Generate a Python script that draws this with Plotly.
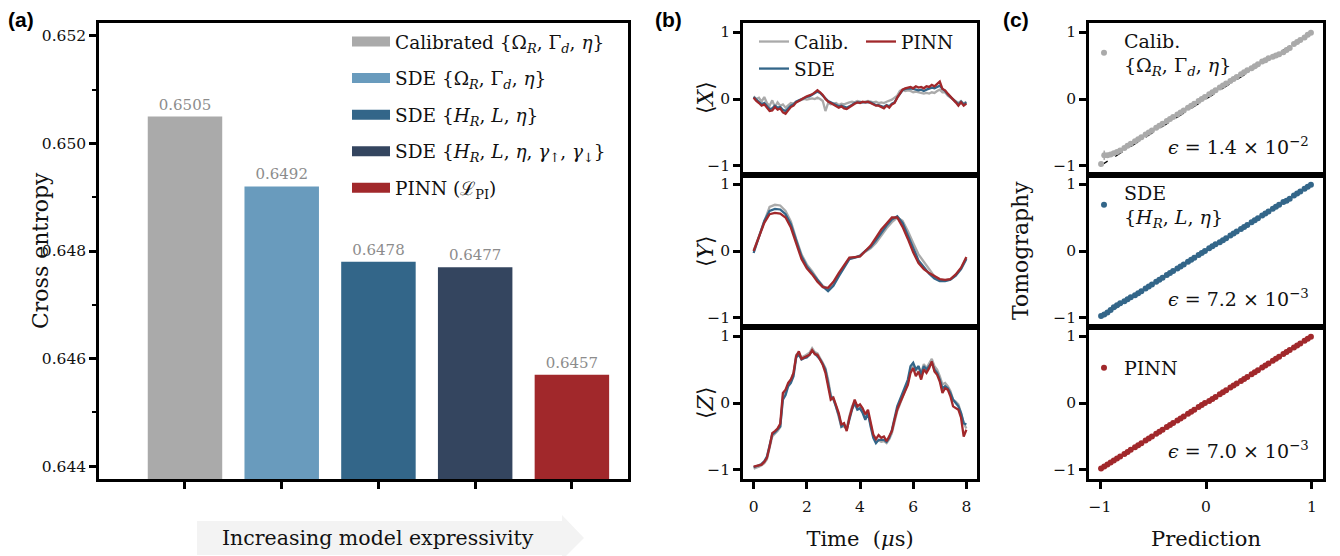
import plotly.graph_objects as go

W, H = 1340, 556
SERIF = "DejaVu Serif"

# ---------------- Panel (a) data ----------------
model_names = [
    "Calibrated {Ω<sub><i>R</i></sub>, Γ<sub><i>d</i></sub>, <i>η</i>}",
    "SDE {Ω<sub><i>R</i></sub>, Γ<sub><i>d</i></sub>, <i>η</i>}",
    "SDE {<i>H</i><sub><i>R</i></sub>, <i>L</i>, <i>η</i>}",
    "SDE {<i>H</i><sub><i>R</i></sub>, <i>L</i>, <i>η</i>, <i>γ</i><sub>↑</sub>, <i>γ</i><sub>↓</sub>}",
    "PINN (ℒ<sub>PI</sub>)",
]
cross_entropy = [0.6505, 0.6492, 0.6478, 0.6477, 0.6457]
bar_colors = ["#aaaaaa", "#699bbd", "#336689", "#34455f", "#a1282b"]

# ---------------- Panel (b) data ----------------
x_calib = [0.04, 0.0, 0.02, -0.04, 0.03, -0.06, -0.1, -0.02, -0.12, -0.05, -0.1, -0.08, -0.13, -0.1, -0.06, -0.07,
           -0.04, -0.03, -0.02, 0.0, -0.01, 0.0, 0.01, 0.0, 0.02, 0.0, -0.03, -0.18, -0.06, -0.08, -0.07, -0.06,
           -0.09, -0.07, -0.08, -0.06, -0.05, -0.04, -0.05, -0.03, -0.04, -0.05, -0.04, -0.03, -0.04, -0.05, -0.04,
           -0.06, -0.05, -0.06, -0.04, -0.03, -0.01, 0.02, 0.05, 0.12, 0.14, 0.12, 0.13, 0.12, 0.1, 0.11, 0.1, 0.09,
           0.08, 0.09, 0.08, 0.1, 0.09, 0.12, 0.14, 0.1, 0.1, 0.05, 0.02, 0.0, -0.03, -0.06, -0.03, -0.07, -0.04]
x_sde = [0.03, -0.01, -0.04, -0.08, -0.06, -0.11, -0.15, -0.14, -0.1, -0.13, -0.12, -0.16, -0.18, -0.14, -0.1, -0.08,
         -0.04, -0.02, 0.0, 0.02, 0.03, 0.04, 0.06, 0.08, 0.11, 0.09, 0.05, 0.0, -0.03, -0.05, -0.07, -0.09, -0.11,
         -0.1, -0.12, -0.13, -0.11, -0.08, -0.06, -0.05, -0.05, -0.04, -0.05, -0.04, -0.05, -0.07, -0.09, -0.09,
         -0.11, -0.12, -0.09, -0.11, -0.07, -0.05, 0.02, 0.07, 0.13, 0.15, 0.16, 0.16, 0.15, 0.14, 0.13, 0.14, 0.12,
         0.14, 0.15, 0.17, 0.16, 0.18, 0.2, 0.15, 0.12, 0.07, 0.03, 0.0, -0.04, -0.08, -0.04, -0.08, -0.05]
x_pinn = [0.02, -0.03, -0.06, -0.1, -0.08, -0.14, -0.18, -0.17, -0.12, -0.16, -0.14, -0.2, -0.22, -0.17, -0.12, -0.1,
          -0.05, -0.03, 0.0, 0.02, 0.04, 0.05, 0.07, 0.1, 0.13, 0.1, 0.06, 0.0, -0.04, -0.06, -0.08, -0.1, -0.13,
          -0.11, -0.14, -0.15, -0.12, -0.09, -0.07, -0.05, -0.06, -0.04, -0.05, -0.04, -0.06, -0.07, -0.1, -0.1,
          -0.12, -0.14, -0.1, -0.13, -0.08, -0.06, 0.02, 0.08, 0.14, 0.16, 0.17, 0.18, 0.16, 0.19, 0.17, 0.18, 0.16,
          0.19, 0.18, 0.21, 0.19, 0.22, 0.26, 0.15, 0.13, 0.08, 0.04, 0.0, -0.05, -0.1, -0.05, -0.1, -0.07]

y_calib = [0.0, 0.22, 0.47, 0.66, 0.69, 0.68, 0.6, 0.44, 0.18, -0.05, -0.2, -0.3, -0.42, -0.52, -0.57, -0.5, -0.36,
           -0.23, -0.11, -0.1, -0.08, -0.01, 0.04, 0.12, 0.23, 0.34, 0.43, 0.5, 0.45, 0.3, 0.12, -0.05, -0.16, -0.28,
           -0.38, -0.43, -0.44, -0.42, -0.36, -0.26, -0.1]
y_sde = [-0.03, 0.2, 0.45, 0.6, 0.63, 0.62, 0.55, 0.4, 0.15, -0.08, -0.23, -0.33, -0.44, -0.53, -0.6, -0.52, -0.38,
         -0.25, -0.12, -0.1, -0.07, 0.0, 0.06, 0.16, 0.28, 0.38, 0.47, 0.52, 0.42, 0.23, 0.03, -0.14, -0.24, -0.34,
         -0.41, -0.45, -0.45, -0.43, -0.37, -0.27, -0.12]
y_pinn = [0.0, 0.2, 0.42, 0.55, 0.57, 0.56, 0.5, 0.35, 0.1, -0.12, -0.26, -0.35, -0.46, -0.54, -0.55, -0.46, -0.33,
          -0.22, -0.1, -0.09, -0.08, 0.0, 0.08, 0.2, 0.32, 0.41, 0.5, 0.5, 0.36, 0.18, -0.02, -0.18, -0.27, -0.33,
          -0.37, -0.42, -0.43, -0.42, -0.35, -0.25, -0.09]

z_calib = [-0.98, -0.97, -0.95, -0.93, -0.9, -0.84, -0.68, -0.5, -0.46, -0.42, -0.36, 0.1, 0.18, 0.28, 0.35, 0.45,
           0.72, 0.75, 0.68, 0.7, 0.72, 0.75, 0.82, 0.76, 0.74, 0.68, 0.6, 0.52, 0.35, 0.12, 0.05, -0.05, -0.2, -0.36,
           -0.35, -0.38, -0.2, -0.05, 0.02, -0.08, -0.06, -0.12, -0.22, -0.15, -0.32, -0.5, -0.58, -0.56, -0.58,
           -0.57, -0.6, -0.54, -0.45, -0.3, -0.12, -0.02, 0.08, 0.2, 0.3, 0.48, 0.55, 0.48, 0.55, 0.45, 0.58, 0.52,
           0.58, 0.66, 0.55, 0.5, 0.4, 0.28, 0.3, 0.25, 0.18, 0.05, 0.02, -0.02, -0.15, -0.3, -0.38]
z_sde = [-0.96, -0.95, -0.93, -0.91, -0.87, -0.8, -0.62, -0.47, -0.44, -0.4, -0.35, 0.05, 0.12, 0.25, 0.3, 0.4, 0.68,
         0.72, 0.65, 0.67, 0.68, 0.72, 0.78, 0.74, 0.7, 0.65, 0.58, 0.5, 0.3, 0.1, 0.06, -0.05, -0.18, -0.35, -0.32,
         -0.4, -0.25, -0.1, 0.0, -0.1, -0.08, -0.15, -0.25, -0.15, -0.35, -0.52, -0.6, -0.55, -0.55, -0.55, -0.58,
         -0.52, -0.4, -0.22, -0.05, 0.05, 0.15, 0.25, 0.35, 0.55, 0.6, 0.5, 0.55, 0.42, 0.55, 0.5, 0.55, 0.6, 0.5,
         0.45, 0.35, 0.22, 0.25, 0.22, 0.15, 0.05, 0.0, -0.05, -0.15, -0.3, -0.32]
z_pinn = [-0.95, -0.94, -0.93, -0.92, -0.88, -0.82, -0.65, -0.45, -0.42, -0.38, -0.31, 0.15, 0.2, 0.3, 0.35, 0.45,
          0.7, 0.77, 0.66, 0.68, 0.69, 0.72, 0.79, 0.73, 0.72, 0.64, 0.57, 0.45, 0.25, 0.05, 0.08, -0.02, -0.15,
          -0.32, -0.3, -0.42, -0.22, -0.08, 0.05, -0.05, -0.02, -0.08, -0.17, -0.1, -0.3, -0.47, -0.54, -0.48, -0.52,
          -0.5, -0.57, -0.5, -0.42, -0.25, -0.1, 0.0, 0.1, 0.18, 0.27, 0.45, 0.52, 0.4, 0.47, 0.35, 0.5, 0.45, 0.52,
          0.62, 0.47, 0.42, 0.32, 0.15, 0.22, 0.2, 0.1, -0.05, -0.08, -0.1, -0.22, -0.5, -0.4]

dt_fine = 0.1
dt_coarse = 0.2

# ---------------- Panel (c) data ----------------
pred_points = [-0.99, -0.96, -0.93, -0.9, -0.87, -0.84, -0.81, -0.77, -0.74, -0.71, -0.67, -0.64, -0.61, -0.57,
               -0.54, -0.51, -0.47, -0.44, -0.41, -0.37, -0.34, -0.31, -0.27, -0.24, -0.21, -0.17, -0.14, -0.11,
               -0.07, -0.04, -0.01, 0.03, 0.06, 0.09, 0.13, 0.16, 0.19, 0.23, 0.26, 0.29, 0.33, 0.36, 0.39, 0.43,
               0.46, 0.49, 0.53, 0.56, 0.59, 0.63, 0.66, 0.69, 0.73, 0.76, 0.79, 0.83, 0.86, 0.89, 0.93, 0.96, 0.99]
tomo_calib = [-0.97, -0.84, -0.84, -0.83, -0.81, -0.79, -0.77, -0.73, -0.7, -0.67, -0.63, -0.6, -0.57, -0.53, -0.5,
              -0.47, -0.43, -0.4, -0.37, -0.33, -0.3, -0.27, -0.23, -0.2, -0.17, -0.13, -0.1, -0.07, -0.03, 0.0,
              0.03, 0.07, 0.1, 0.13, 0.17, 0.2, 0.23, 0.27, 0.3, 0.33, 0.37, 0.4, 0.43, 0.46, 0.49, 0.52, 0.56,
              0.58, 0.61, 0.63, 0.65, 0.67, 0.7, 0.73, 0.76, 0.82, 0.85, 0.88, 0.92, 0.96, 0.99]
err_calib = [0.01, 0.07, 0.02, 0.02, 0.02, 0.02, 0.015, 0.015, 0.015, 0.015, 0.015, 0.015, 0.015, 0.015, 0.015,
             0.015, 0.015, 0.015, 0.015, 0.015, 0.015, 0.015, 0.015, 0.015, 0.015, 0.015, 0.015, 0.015, 0.015, 0.015,
             0.015, 0.015, 0.015, 0.015, 0.015, 0.015, 0.015, 0.015, 0.015, 0.015, 0.015, 0.015, 0.015, 0.015, 0.015,
             0.015, 0.015, 0.015, 0.015, 0.015, 0.015, 0.015, 0.015, 0.015, 0.015, 0.015, 0.015, 0.015, 0.01, 0.01,
             0.01]
tomo_sde = [-0.97, -0.95, -0.92, -0.88, -0.84, -0.81, -0.78, -0.75, -0.72, -0.69, -0.66, -0.63, -0.6, -0.56, -0.53,
            -0.5, -0.46, -0.43, -0.4, -0.36, -0.33, -0.3, -0.26, -0.23, -0.2, -0.16, -0.13, -0.1, -0.06, -0.03, 0.0,
            0.04, 0.07, 0.1, 0.13, 0.16, 0.19, 0.23, 0.26, 0.29, 0.33, 0.36, 0.39, 0.43, 0.46, 0.49, 0.53, 0.56,
            0.59, 0.63, 0.66, 0.69, 0.73, 0.75, 0.78, 0.83, 0.86, 0.89, 0.93, 0.96, 0.99]
err_sde = [0.01, 0.012, 0.012, 0.012, 0.012, 0.012, 0.012, 0.012, 0.012, 0.012, 0.012, 0.012, 0.012, 0.012, 0.012,
           0.012, 0.012, 0.012, 0.012, 0.012, 0.012, 0.012, 0.012, 0.012, 0.012, 0.012, 0.012, 0.012, 0.012, 0.012,
           0.012, 0.012, 0.012, 0.012, 0.012, 0.012, 0.012, 0.012, 0.012, 0.012, 0.012, 0.012, 0.012, 0.012, 0.012,
           0.012, 0.012, 0.012, 0.012, 0.012, 0.012, 0.012, 0.012, 0.012, 0.012, 0.012, 0.012, 0.012, 0.01, 0.01,
           0.01]
tomo_pinn = [-0.98, -0.95, -0.92, -0.89, -0.86, -0.83, -0.8, -0.76, -0.73, -0.7, -0.66, -0.63, -0.6, -0.56, -0.53,
             -0.5, -0.46, -0.43, -0.4, -0.36, -0.33, -0.3, -0.26, -0.23, -0.2, -0.16, -0.13, -0.1, -0.06, -0.03, 0.0,
             0.03, 0.06, 0.09, 0.13, 0.16, 0.19, 0.23, 0.26, 0.29, 0.33, 0.36, 0.39, 0.43, 0.46, 0.49, 0.53, 0.56,
             0.59, 0.63, 0.66, 0.69, 0.73, 0.76, 0.79, 0.83, 0.86, 0.89, 0.93, 0.96, 0.99]
err_pinn = [0.01, 0.012, 0.012, 0.012, 0.012, 0.012, 0.012, 0.012, 0.012, 0.012, 0.012, 0.012, 0.012, 0.012, 0.012,
            0.012, 0.012, 0.012, 0.012, 0.012, 0.012, 0.012, 0.012, 0.012, 0.012, 0.012, 0.012, 0.012, 0.012, 0.012,
            0.012, 0.012, 0.012, 0.012, 0.012, 0.012, 0.012, 0.012, 0.012, 0.012, 0.012, 0.012, 0.012, 0.012, 0.012,
            0.012, 0.012, 0.012, 0.012, 0.012, 0.012, 0.012, 0.012, 0.012, 0.012, 0.012, 0.012, 0.012, 0.01, 0.01,
            0.01]
diag_line = [-1, 1]
eps_labels = ["<i>ϵ</i> = 1.4 × 10<sup>−2</sup>", "<i>ϵ</i> = 7.2 × 10<sup>−3</sup>", "<i>ϵ</i> = 7.0 × 10<sup>−3</sup>"]
c_legend_names = ["Calib.<br>{Ω<sub><i>R</i></sub>, Γ<sub><i>d</i></sub>, <i>η</i>}",
                  "SDE<br>{<i>H</i><sub><i>R</i></sub>, <i>L</i>, <i>η</i>}",
                  "PINN"]

C_CAL, C_SDE, C_PINN = "#aaaaaa", "#336689", "#a1282b"


def px_x(p):
    return p / W


def px_y(p):
    return 1 - p / H


fig = go.Figure()

# ---- (a) bars (legend swatches drawn by wide line proxies, like the reference's rectangles)
for i, (name, val, col) in enumerate(zip(model_names, cross_entropy, bar_colors)):
    fig.add_trace(go.Bar(
        x=[i], y=[val], width=0.77, name=name, marker=dict(color=col, line=dict(width=0)),
        text=[f"{val:.4f}"], textposition="outside", cliponaxis=False,
        textfont=dict(family=SERIF, size=15, color="#8c8c8c"),
        showlegend=False, legendgroup=f"a{i}", xaxis="x", yaxis="y",
    ))
    fig.add_trace(go.Scatter(
        x=[None], y=[None], mode="lines", name=name, line=dict(color=col, width=14),
        legend="legend", legendgroup=f"a{i}", xaxis="x", yaxis="y", hoverinfo="skip",
    ))

# ---- (b) time traces
def tgrid(vals, dt):
    return [round(k * dt, 2) for k in range(len(vals))]

series_b = [
    (x_calib, x_sde, x_pinn, dt_fine, "2"),
    (y_calib, y_sde, y_pinn, dt_coarse, "3"),
    (z_calib, z_sde, z_pinn, dt_fine, "4"),
]
for r, (cal, sde, pinn, dt, ax) in enumerate(series_b):
    show = r == 0
    fig.add_trace(go.Scatter(x=tgrid(cal, dt), y=cal, mode="lines", line=dict(color=C_CAL, width=2.3),
                             name="Calib.", showlegend=show, legend="legend2", legendgroup="bc",
                             xaxis="x" + ax, yaxis="y" + ax))
    fig.add_trace(go.Scatter(x=tgrid(sde, dt), y=sde, mode="lines", line=dict(color=C_SDE, width=2.3),
                             name="SDE", showlegend=show, legend="legend2", legendgroup="bs",
                             xaxis="x" + ax, yaxis="y" + ax))
    fig.add_trace(go.Scatter(x=tgrid(pinn, dt), y=pinn, mode="lines", line=dict(color=C_PINN, width=2.3),
                             name="PINN", showlegend=show, legend="legend3", legendgroup="bp",
                             xaxis="x" + ax, yaxis="y" + ax))

# ---- (c) scatter vs tomography
series_c = [(tomo_calib, err_calib, C_CAL, "5", "legend4"),
            (tomo_sde, err_sde, C_SDE, "6", "legend5"),
            (tomo_pinn, err_pinn, C_PINN, "7", "legend6")]
for k, (tomo, err, col, ax, lg) in enumerate(series_c):
    fig.add_trace(go.Scatter(x=diag_line, y=diag_line, mode="lines", line=dict(color="black", width=1.3, dash="dash"),
                             showlegend=False, xaxis="x" + ax, yaxis="y" + ax, hoverinfo="skip"))
    fig.add_trace(go.Scatter(x=pred_points, y=tomo, mode="markers", name=c_legend_names[k],
                             marker=dict(color=col, size=6),
                             error_y=dict(type="data", array=err, color=col, thickness=1.6, width=0),
                             legend=lg, xaxis="x" + ax, yaxis="y" + ax))

# ---------------- Layout ----------------
tickfont = dict(family=SERIF, size=15.5, color="#111")
titlefont = dict(family=SERIF, size=21, color="#111")
axcommon = dict(showline=True, mirror=True, linewidth=2.5, linecolor="black", showgrid=False, zeroline=False,
                ticks="outside", ticklen=7, tickwidth=2.5, tickcolor="black", tickfont=tickfont)

xa, xb, xc = [px_x(99), px_x(628)], [px_x(743), px_x(977)], [px_x(1089), px_x(1323)]
rows = [[px_y(175), px_y(23)], [px_y(327), px_y(175)], [px_y(479), px_y(327)]]

layout = dict(
    width=W, height=H, margin=dict(l=0, r=0, t=0, b=0),
    paper_bgcolor="white", plot_bgcolor="white", barmode="overlay", showlegend=True,
    font=dict(family=SERIF, size=17, color="#111"),
)
layout["xaxis"] = dict(axcommon, domain=xa, range=[-0.889, 4.58], tickvals=[0, 1, 2, 3, 4],
                       showticklabels=False, anchor="y")
layout["yaxis"] = dict(axcommon, domain=[px_y(479), px_y(23)], range=[0.64376, 0.65224],
                       tickvals=[0.644, 0.646, 0.648, 0.650, 0.652], tickformat=".3f",
                       minor=dict(dtick=0.001, ticks="outside", ticklen=4, tickwidth=2, tickcolor="black"),
                       anchor="x")

for r in range(3):
    ax = str(r + 2)
    last = r == 2
    layout["xaxis" + ax] = dict(axcommon, domain=xb, range=[-0.4, 8.4], anchor="y" + ax,
                                tickvals=[0, 2, 4, 6, 8] if last else [], showticklabels=last,
                                ticks="outside" if last else "", ticklabelstandoff=5,
                                title=dict(text="Time \u00a0(<i>μ</i>s)", font=titlefont, standoff=16)
                                if last else None)
    layout["yaxis" + ax] = dict(axcommon, domain=rows[r], range=[-1.135, 1.135], tickvals=[-1, 0, 1],
                                anchor="x" + ax)

for r in range(3):
    ax = str(r + 5)
    last = r == 2
    layout["xaxis" + ax] = dict(axcommon, domain=xc, range=[-1.104, 1.104], anchor="y" + ax,
                                tickvals=[-1, 0, 1] if last else [], showticklabels=last,
                                ticks="outside" if last else "", ticklabelstandoff=5,
                                title=dict(text="Prediction", font=titlefont, standoff=16)
                                if last else None)
    layout["yaxis" + ax] = dict(axcommon, domain=rows[r], range=[-1.135, 1.135], tickvals=[-1, 0, 1],
                                anchor="x" + ax)

layout["legend"] = dict(x=px_x(347), y=px_y(23), xanchor="left", yanchor="top", bgcolor="rgba(0,0,0,0)",
                        font=dict(family=SERIF, size=18.5, color="#111"), tracegroupgap=9.5, itemwidth=38)
layout["legend2"] = dict(x=px_x(754), y=px_y(23), xanchor="left", yanchor="top", bgcolor="rgba(0,0,0,0)",
                         font=dict(family=SERIF, size=18.5, color="#111"), tracegroupgap=0, itemwidth=30)
layout["legend3"] = dict(x=px_x(861), y=px_y(23), xanchor="left", yanchor="top", bgcolor="rgba(0,0,0,0)",
                         font=dict(family=SERIF, size=18.5, color="#111"), itemwidth=30)
for k, lg in enumerate(["legend4", "legend5", "legend6"]):
    top = [23, 175, 327][k]
    off = [30, 30, 41][k]
    layout[lg] = dict(x=px_x(1084), y=px_y(top + off), xanchor="left", yanchor="middle", bgcolor="rgba(0,0,0,0)",
                      font=dict(family=SERIF, size=19, color="#111"), itemwidth=30)

annotations = []
for k, txt in enumerate(eps_labels):
    ax = str(k + 5)
    annotations.append(dict(text=txt, xref="x" + ax + " domain", yref="y" + ax + " domain", x=0.95, y=0.1,
                            xanchor="right", yanchor="bottom", showarrow=False,
                            font=dict(family=SERIF, size=19, color="#111")))
for lbl, xp in [("(a)", 6), ("(b)", 653), ("(c)", 1001)]:
    annotations.append(dict(text=f"<b>{lbl}</b>", xref="paper", yref="paper", x=px_x(xp), y=px_y(6),
                            xanchor="left", yanchor="top", showarrow=False,
                            font=dict(family="Liberation Sans", size=21, color="black")))
# rotated axis titles
ytitles = [("Cross entropy", 40, 251), ("⟨<i>X</i>⟩", 705, 98), ("⟨<i>Y</i>⟩", 705, 251),
           ("⟨<i>Z</i>⟩", 705, 403), ("Tomography", 1020, 251)]
for txt, xp, yp in ytitles:
    annotations.append(dict(text=txt, xref="paper", yref="paper", x=px_x(xp), y=px_y(yp), textangle=-90,
                            xanchor="center", yanchor="middle", showarrow=False,
                            font=dict(family=SERIF, size=22, color="#111")))
annotations.append(dict(text="Increasing model expressivity", xref="paper", yref="paper", x=px_x(378), y=px_y(538),
                        xanchor="center", yanchor="middle", showarrow=False,
                        font=dict(family=SERIF, size=20.5, color="#111")))
layout["annotations"] = annotations

x0, x1, xt = px_x(197), px_x(562), px_x(584)
yb0, yb1, yh0, yh1, ym = px_y(555), px_y(521), px_y(560), px_y(515), px_y(538)
arrow_path = f"M{x0},{yb0} L{x1},{yb0} L{x1},{yh0} L{xt},{ym} L{x1},{yh1} L{x1},{yb1} L{x0},{yb1} Z"
layout["shapes"] = [dict(type="path", xref="paper", yref="paper", path=arrow_path,
                         fillcolor="#f3f3f3", line=dict(width=0), layer="below")]

fig.update_layout(**layout)
fig.write_html("out.html")
